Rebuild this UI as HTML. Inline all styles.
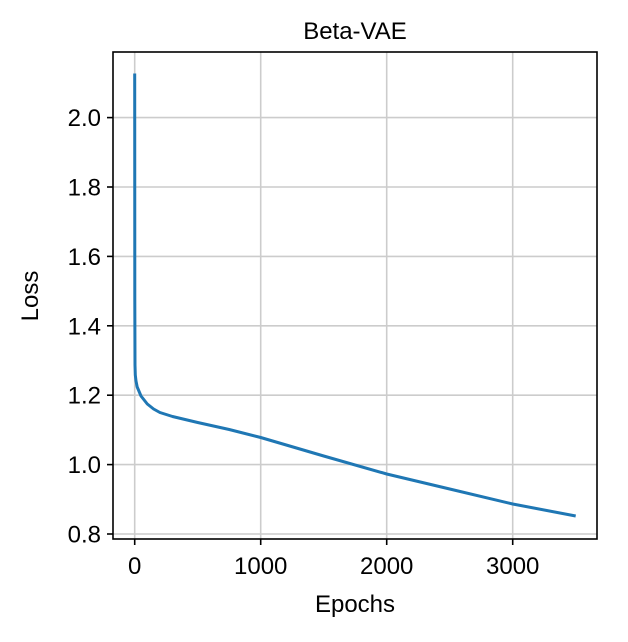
<!DOCTYPE html>
<html><head><style>body{margin:0;background:#fff}</style></head><body>
<svg width="628" height="637" xmlns="http://www.w3.org/2000/svg" font-family="Liberation Sans, Arial, sans-serif">
<g stroke="#cccccc" stroke-width="1.6">
<line x1="134.7" y1="52" x2="134.7" y2="539"/><line x1="260.7" y1="52" x2="260.7" y2="539"/><line x1="386.7" y1="52" x2="386.7" y2="539"/><line x1="512.7" y1="52" x2="512.7" y2="539"/>
<line x1="113" y1="534" x2="597" y2="534"/><line x1="113" y1="464.6" x2="597" y2="464.6"/><line x1="113" y1="395.2" x2="597" y2="395.2"/><line x1="113" y1="325.8" x2="597" y2="325.8"/><line x1="113" y1="256.4" x2="597" y2="256.4"/><line x1="113" y1="187" x2="597" y2="187"/><line x1="113" y1="117.6" x2="597" y2="117.6"/>
</g>
<polyline fill="none" stroke="#1f77b4" stroke-width="3" stroke-linejoin="round" points="134.7,73.5 134.8,300 135,365 135.3,375 136,381 137.2,387 141,396 147.3,404 153.6,409 159.9,412.5 172.5,416.5 197.7,422.5 229.2,429.5 260.7,437.5 323.7,456 386.7,474 449.7,489 512.7,504 575.7,516"/>
<g stroke="#000" stroke-width="1.6">
<rect x="113" y="52" width="484" height="487" fill="none"/>
<line x1="134.7" y1="539" x2="134.7" y2="545"/><line x1="260.7" y1="539" x2="260.7" y2="545"/><line x1="386.7" y1="539" x2="386.7" y2="545"/><line x1="512.7" y1="539" x2="512.7" y2="545"/>
<line x1="107" y1="534" x2="113" y2="534"/><line x1="107" y1="464.6" x2="113" y2="464.6"/><line x1="107" y1="395.2" x2="113" y2="395.2"/><line x1="107" y1="325.8" x2="113" y2="325.8"/><line x1="107" y1="256.4" x2="113" y2="256.4"/><line x1="107" y1="187" x2="113" y2="187"/><line x1="107" y1="117.6" x2="113" y2="117.6"/>
</g>
<g font-size="24" fill="#000" text-anchor="middle">
<text x="134.7" y="574">0</text><text x="260.7" y="574">1000</text><text x="386.7" y="574">2000</text><text x="512.7" y="574">3000</text>
</g>
<g font-size="24" fill="#000" text-anchor="end">
<text x="101" y="542.5">0.8</text><text x="101" y="473">1.0</text><text x="101" y="403.7">1.2</text><text x="101" y="334.3">1.4</text><text x="101" y="264.9">1.6</text><text x="101" y="195.5">1.8</text><text x="101" y="126.1">2.0</text>
</g>
<text x="355" y="612" font-size="24" text-anchor="middle">Epochs</text>
<text x="38" y="296" font-size="24" text-anchor="middle" transform="rotate(-90 38 296)">Loss</text>
<text x="355" y="39" font-size="24" text-anchor="middle">Beta-VAE</text>
</svg>
</body></html>
